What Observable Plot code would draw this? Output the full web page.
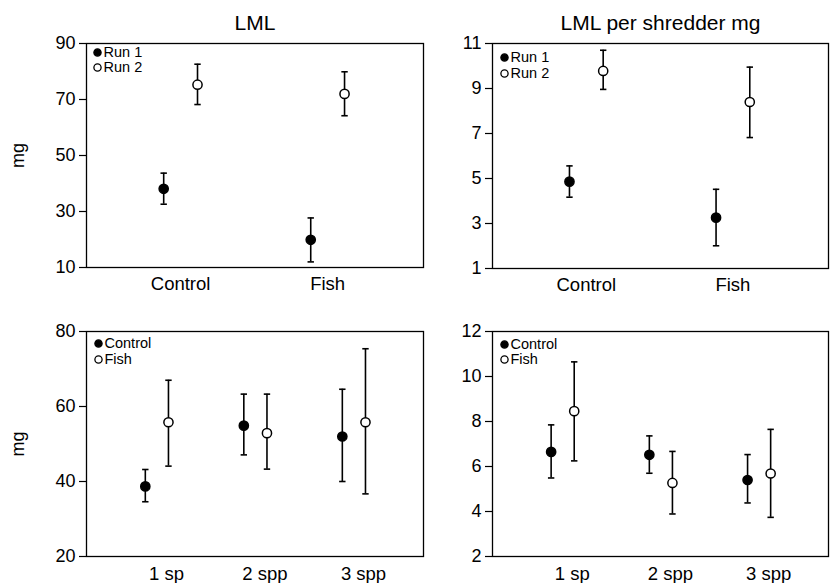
<!DOCTYPE html>
<html>
<head>
<meta charset="utf-8">
<script src="https://cdn.jsdelivr.net/npm/d3@7"></script>
<script src="https://cdn.jsdelivr.net/npm/@observablehq/plot@0.6"></script>
<style>
  html, body { margin: 0; padding: 0; background: #fff; }
  #wrap { position: relative; width: 832px; height: 583px; background: #fff; overflow: hidden; }
  #wrap > svg, #wrap > figure { position: absolute; margin: 0; }
</style>
</head>
<body>
<div id="wrap"></div>
<script>
// ---------- data ----------
const topCategories = ["Control", "Fish"];
const topSeries = ["Run 1", "Run 2"];
const lmlRun1 = [38.1, 19.9];
const lmlRun1Lo = [32.6, 12.0];
const lmlRun1Hi = [43.7, 27.7];
const lmlRun2 = [75.3, 72.0];
const lmlRun2Lo = [68.2, 64.2];
const lmlRun2Hi = [82.6, 79.9];
const perRun1 = [4.86, 3.26];
const perRun1Lo = [4.17, 2.01];
const perRun1Hi = [5.56, 4.52];
const perRun2 = [9.78, 8.40];
const perRun2Lo = [8.96, 6.82];
const perRun2Hi = [10.70, 9.95];

const botCategories = ["1 sp", "2 spp", "3 spp"];
const botSeries = ["Control", "Fish"];
const lmlControl = [38.7, 54.9, 52.0];
const lmlControlLo = [34.6, 47.1, 40.0];
const lmlControlHi = [43.2, 63.3, 64.6];
const lmlFish = [55.8, 52.9, 55.8];
const lmlFishLo = [44.1, 43.3, 36.7];
const lmlFishHi = [67.0, 63.3, 75.4];
const perControl = [6.65, 6.52, 5.40];
const perControlLo = [5.49, 5.70, 4.38];
const perControlHi = [7.85, 7.36, 6.53];
const perFish = [8.46, 5.27, 5.69];
const perFishLo = [6.25, 3.89, 3.74];
const perFishHi = [10.65, 6.67, 7.65];

const ticksTL = [10, 30, 50, 70, 90];
const ticksTR = [1, 3, 5, 7, 9, 11];
const ticksBL = [20, 40, 60, 80];
const ticksBR = [2, 4, 6, 8, 10, 12];

const titleLeft = "LML";
const titleRight = "LML per shredder mg";
const yLabel = "mg";

// ---------- helpers ----------
const FONT = "'Liberation Sans', Arial, Helvetica, sans-serif";
const capSymbol = {
  draw(context, size) {
    const r = Math.sqrt(size / Math.PI);
    context.moveTo(-r, 0);
    context.lineTo(r, 0);
  }
};

function rows(cats, series, vals, los, his, offsets) {
  const out = [];
  series.forEach((s, si) => {
    cats.forEach((c, ci) => {
      out.push({series: s, si, cat: c, x: ci + 1 + offsets[si], y: vals[si][ci], lo: los[si][ci], hi: his[si][ci]});
    });
  });
  return out;
}

function panel(o) {
  const data = rows(o.cats, o.series, o.vals, o.los, o.his, o.offsets);
  const legend = o.series.map((s, i) => ({label: s, i}));
  const plot = Plot.plot({
    width: o.width,
    height: o.height,
    marginLeft: o.ml, marginRight: o.mr, marginTop: o.mt, marginBottom: o.mb,
    style: {background: "transparent", fontFamily: FONT, color: "black", overflow: "visible"},
    x: {type: "linear", domain: o.xDomain},
    y: {domain: [o.yTicks[0], o.yTicks[o.yTicks.length - 1]], nice: false},
    marks: [
      Plot.frame({stroke: "black", strokeWidth: 1.3}),
      Plot.axisY({ticks: o.yTicks, tickSize: 7, tickPadding: 4, fontSize: 18, strokeWidth: 1.2,
        label: o.yLabel, labelAnchor: "center", labelOffset: 75, labelArrow: "none"}),
      Plot.axisX({ticks: o.cats.map((c, i) => i + 1), tickFormat: (d) => o.cats[d - 1],
        tickSize: 0, tickPadding: o.xPad, fontSize: 18.5, label: null}),
      Plot.ruleX(data, {x: "x", y1: "lo", y2: "hi", stroke: "black", strokeWidth: 1.6}),
      Plot.dot(data, {x: "x", y: "lo", symbol: capSymbol, r: 3.2, stroke: "black", strokeWidth: 1.6}),
      Plot.dot(data, {x: "x", y: "hi", symbol: capSymbol, r: 3.2, stroke: "black", strokeWidth: 1.6}),
      Plot.dot(data, {x: "x", y: "y", r: 4.6, stroke: "black", strokeWidth: 1.5,
        fill: (d) => d.si === 0 ? "black" : "white"}),
      // title
      Plot.text([o.title], {frameAnchor: "top", text: (d) => d, dy: -14, lineAnchor: "bottom", fontSize: 21}),
      // legend
      ...legend.map((l) => Plot.dot([l], {frameAnchor: "top-left", dx: o.legX, dy: o.legY + l.i * o.legGap,
        r: 3.6, stroke: "black", strokeWidth: 1.3, fill: l.i === 0 ? "black" : "white"})),
      ...legend.map((l) => Plot.text([l], {frameAnchor: "top-left", text: "label", dx: o.legX + 6, dy: o.legY + l.i * o.legGap,
        textAnchor: "start", lineAnchor: "middle", fontSize: 14.5}))
    ]
  });
  plot.style.left = o.left + "px";
  plot.style.top = o.top + "px";
  return plot;
}

const wrap = document.getElementById("wrap");
const topOff = [-0.115, 0.115];
const botOff = [-0.215, 0.02];
const topDomain = [0.36, 2.652];
const botDomain = [0.188, 3.609];

wrap.appendChild(panel({
  left: 0, top: 0, width: 430, height: 300, ml: 86, mr: 7, mt: 43, mb: 33,
  cats: topCategories, series: topSeries,
  vals: [lmlRun1, lmlRun2], los: [lmlRun1Lo, lmlRun2Lo], his: [lmlRun1Hi, lmlRun2Hi],
  offsets: topOff, xDomain: topDomain, yTicks: ticksTL, yLabel: yLabel, title: titleLeft,
  xPad: 9, legX: 11, legY: 9, legGap: 15
}));
wrap.appendChild(panel({
  left: 410, top: 0, width: 422, height: 300, ml: 82, mr: 4, mt: 43, mb: 32,
  cats: topCategories, series: topSeries,
  vals: [perRun1, perRun2], los: [perRun1Lo, perRun2Lo], his: [perRun1Hi, perRun2Hi],
  offsets: topOff, xDomain: topDomain, yTicks: ticksTR, yLabel: null, title: titleRight,
  xPad: 9, legX: 12, legY: 14, legGap: 16
}));
wrap.appendChild(panel({
  left: 0, top: 290, width: 430, height: 293, ml: 86, mr: 7, mt: 41, mb: 27,
  cats: botCategories, series: botSeries,
  vals: [lmlControl, lmlFish], los: [lmlControlLo, lmlFishLo], his: [lmlControlHi, lmlFishHi],
  offsets: botOff, xDomain: botDomain, yTicks: ticksBL, yLabel: yLabel, title: "",
  xPad: 10, legX: 12, legY: 12, legGap: 16
}));
wrap.appendChild(panel({
  left: 410, top: 290, width: 422, height: 293, ml: 82, mr: 4, mt: 41, mb: 27,
  cats: botCategories, series: botSeries,
  vals: [perControl, perFish], los: [perControlLo, perFishLo], his: [perControlHi, perFishHi],
  offsets: botOff, xDomain: botDomain, yTicks: ticksBR, yLabel: null, title: "",
  xPad: 10, legX: 12, legY: 13, legGap: 15
}));
</script>
</body>
</html>
